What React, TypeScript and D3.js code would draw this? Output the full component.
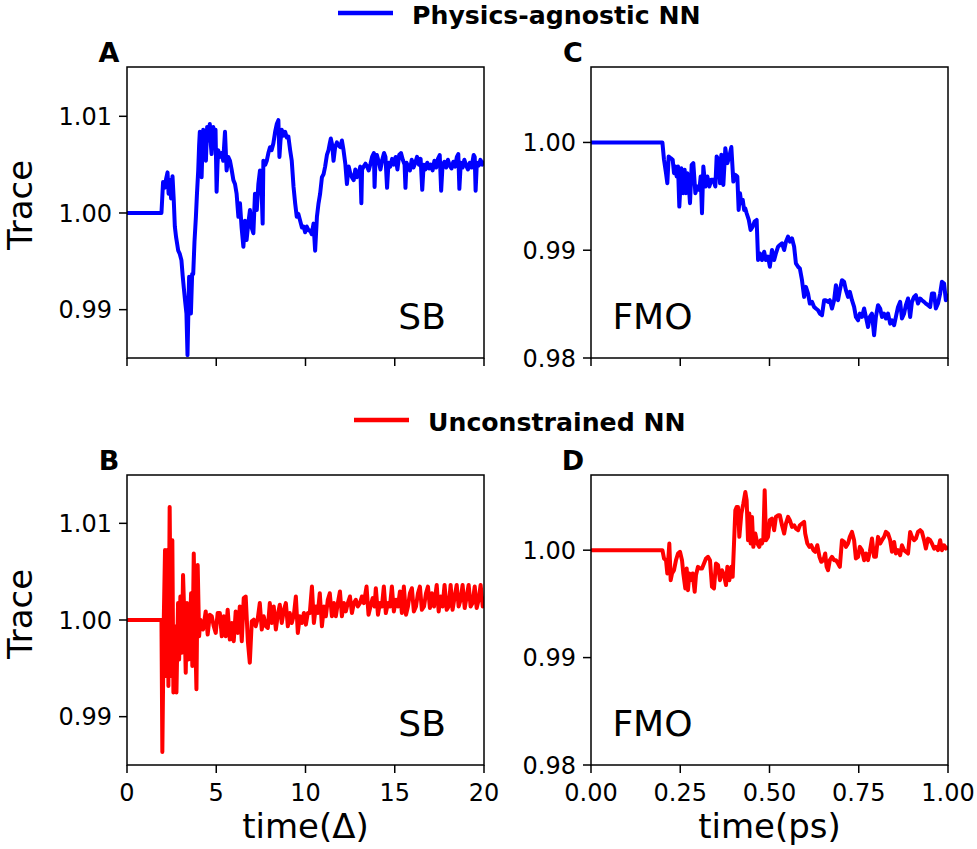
import * as d3 from 'd3';

type Pt = [number, number];

// Panel A: SB, physics-agnostic NN (time in units of Delta, trace)
const sbAgnostic: Pt[] = [
  [0, 1.0], [1.93, 1.0], [2.02, 1.0032], [2.1, 1.0026], [2.2, 1.0036], [2.27, 1.0042], [2.33, 1.002],
  [2.4, 1.0034], [2.47, 1.0015], [2.55, 1.0038], [2.62, 1.0013], [2.68, 0.9986], [2.75, 0.9975],
  [2.87, 0.9961], [2.95, 0.9958], [3.05, 0.9951], [3.12, 0.9935], [3.18, 0.9923], [3.25, 0.991],
  [3.33, 0.9896], [3.39, 0.9853], [3.44, 0.99], [3.48, 0.9934], [3.53, 0.9915], [3.58, 0.9896],
  [3.65, 0.9937], [3.71, 0.9937], [3.78, 0.997], [3.86, 0.9996], [3.92, 1.002], [3.99, 1.0044],
  [4.04, 1.007], [4.08, 1.0084], [4.13, 1.006], [4.18, 1.0037], [4.23, 1.007], [4.27, 1.0086],
  [4.35, 1.0065], [4.42, 1.0054], [4.49, 1.0089], [4.55, 1.0075], [4.64, 1.0092], [4.7, 1.007],
  [4.74, 1.0061], [4.83, 1.0089], [4.9, 1.007], [4.96, 1.0086], [5.02, 1.0022], [5.07, 1.005],
  [5.11, 1.0065], [5.21, 1.0058], [5.3, 1.0062], [5.39, 1.0054], [5.49, 1.0084], [5.58, 1.0044],
  [5.67, 1.0058], [5.77, 1.0054], [5.86, 1.0045], [5.96, 1.0034], [6.05, 1.003], [6.14, 1.002],
  [6.24, 0.9996], [6.33, 1.001], [6.42, 0.9985], [6.52, 0.9965], [6.61, 0.9992], [6.7, 0.9972],
  [6.8, 0.999], [6.89, 1.0003], [6.98, 0.9985], [7.08, 0.9979], [7.17, 1.002], [7.27, 1.0003],
  [7.36, 1.003], [7.45, 1.0044], [7.52, 1.0035], [7.6, 0.9989], [7.64, 1.0054], [7.75, 1.005],
  [7.83, 1.0054], [7.92, 1.0062], [8.01, 1.0068], [8.1, 1.0065], [8.2, 1.0072], [8.3, 1.0084],
  [8.39, 1.0092], [8.48, 1.0096], [8.54, 1.0058], [8.6, 1.0075], [8.67, 1.0086], [8.76, 1.008],
  [8.86, 1.0084], [8.95, 1.0078], [9.04, 1.0079], [9.14, 1.0065], [9.23, 1.0054], [9.33, 1.0027],
  [9.42, 1.001], [9.51, 0.9996], [9.6, 0.9999], [9.7, 0.9992], [9.8, 0.9985], [9.89, 0.9986],
  [9.98, 0.998], [10.07, 0.9986], [10.17, 0.9982], [10.26, 0.9982], [10.35, 0.9978], [10.45, 0.9989],
  [10.54, 0.9961], [10.64, 0.9996], [10.73, 1.001], [10.82, 1.002], [10.92, 1.0037], [11.01, 1.004],
  [11.1, 1.0048], [11.2, 1.006], [11.29, 1.0065], [11.36, 1.0072], [11.42, 1.0077], [11.5, 1.007],
  [11.57, 1.0054], [11.66, 1.0068], [11.76, 1.0073], [11.85, 1.007], [11.95, 1.0068], [12.04, 1.0075],
  [12.13, 1.0065], [12.23, 1.0051], [12.32, 1.003], [12.42, 1.0048], [12.51, 1.0041], [12.6, 1.0037],
  [12.7, 1.0034], [12.79, 1.0045], [12.88, 1.0037], [12.98, 1.0041], [13.07, 1.0048], [13.13, 1.001],
  [13.17, 1.0045], [13.26, 1.0048], [13.36, 1.0051], [13.45, 1.0048], [13.54, 1.0044], [13.64, 1.0051],
  [13.73, 1.0058], [13.83, 1.0062], [13.87, 1.0027], [13.92, 1.0055], [14.0, 1.006], [14.1, 1.0053],
  [14.2, 1.0045], [14.3, 1.0055], [14.4, 1.0062], [14.48, 1.0058], [14.57, 1.0026], [14.65, 1.0052],
  [14.75, 1.0048], [14.85, 1.0056], [14.95, 1.005], [15.05, 1.0058], [15.15, 1.0045], [15.25, 1.006],
  [15.35, 1.0062], [15.45, 1.0055], [15.55, 1.005], [15.6, 1.0026], [15.66, 1.0052], [15.75, 1.0048],
  [15.85, 1.0044], [15.95, 1.0055], [16.05, 1.0047], [16.15, 1.0052], [16.25, 1.0058], [16.35, 1.005],
  [16.45, 1.0056], [16.54, 1.0024], [16.62, 1.005], [16.72, 1.0045], [16.82, 1.0052], [16.92, 1.0046],
  [17.02, 1.005], [17.12, 1.0044], [17.22, 1.0054], [17.32, 1.0047], [17.42, 1.0056], [17.52, 1.006],
  [17.6, 1.0023], [17.68, 1.005], [17.78, 1.0053], [17.88, 1.0047], [17.98, 1.0055], [18.08, 1.0049],
  [18.18, 1.0046], [18.28, 1.0053], [18.38, 1.0048], [18.48, 1.0058], [18.56, 1.0061], [18.62, 1.0025],
  [18.7, 1.0052], [18.8, 1.0047], [18.9, 1.0055], [19.0, 1.0049], [19.1, 1.0045], [19.2, 1.0052],
  [19.3, 1.0047], [19.42, 1.006], [19.48, 1.0058], [19.53, 1.0023], [19.6, 1.0052], [19.7, 1.0049],
  [19.8, 1.0055], [19.9, 1.005], [20, 1.0054],
];

// Panel B: SB, unconstrained NN
const sbUnconstrained: Pt[] = [
  [0, 1.0], [1.87, 1.0], [1.93, 1.0], [1.98, 0.98634], [2.06, 1.0], [2.13, 1.00723], [2.21, 0.99421],
  [2.26, 1.00723], [2.32, 0.99318], [2.39, 1.01168], [2.47, 0.99421], [2.54, 1.00825], [2.6, 0.9925],
  [2.67, 0.99935], [2.77, 0.9925], [2.86, 1.00175], [2.92, 0.99592], [2.99, 1.00243], [3.07, 0.99661],
  [3.14, 1.00466], [3.23, 0.99935], [3.29, 0.99455], [3.36, 1.00175], [3.44, 0.99592], [3.51, 0.99798],
  [3.59, 1.00277], [3.66, 0.99524], [3.74, 1.00688], [3.81, 0.99935], [3.89, 0.99284], [3.96, 1.00568],
  [4.04, 0.99832], [4.11, 1.00003], [4.26, 0.99901], [4.41, 1.00089], [4.52, 0.99849], [4.64, 1.00055],
  [4.75, 1.00038], [4.86, 0.99935], [4.97, 0.99866], [5.08, 1.00072], [5.2, 1.00072], [5.31, 0.99832],
  [5.42, 1.00038], [5.53, 0.99832], [5.64, 1.00106], [5.76, 0.99798], [5.87, 0.99969], [5.98, 0.99781],
  [6.09, 1.00089], [6.21, 0.99866], [6.32, 1.0014], [6.43, 0.99781], [6.54, 1.00226], [6.65, 1.00243],
  [6.77, 0.99781], [6.88, 0.99558], [6.99, 0.99986], [7.1, 1.00003], [7.21, 0.99935], [7.33, 1.00021],
  [7.44, 1.00175], [7.55, 0.99901], [7.66, 1.00038], [7.78, 0.99935], [7.89, 0.99918], [8.0, 1.00175],
  [8.11, 0.99969], [8.22, 1.0014], [8.34, 0.99901], [8.45, 1.00055], [8.56, 1.00158], [8.67, 0.99969],
  [8.79, 1.00106], [8.9, 1.00175], [9.01, 0.99935], [9.12, 1.00072], [9.23, 0.99969], [9.35, 1.00055],
  [9.46, 1.00243], [9.57, 0.99866], [9.68, 1.00038], [9.79, 0.99969], [9.91, 1.00072], [10.02, 0.99952],
  [10.13, 1.00072], [10.24, 1.00072], [10.36, 1.00346], [10.47, 0.99969], [10.58, 1.0014], [10.69, 1.00072],
  [10.8, 1.00277], [10.92, 0.99935], [11.03, 1.0014], [11.14, 1.00038], [11.25, 1.00209], [11.36, 1.00277],
  [11.48, 1.00038], [11.59, 1.00175], [11.7, 1.00038], [11.81, 1.00175], [11.93, 1.00295], [12.04, 1.00038],
  [12.15, 1.00175], [12.26, 1.00089], [12.37, 1.00175], [12.49, 1.00243], [12.6, 1.00072], [12.71, 1.00175],
  [12.82, 1.00209], [12.93, 1.0014], [13.05, 1.00175], [13.16, 1.00243], [13.27, 1.00175], [13.42, 1.00346],
  [13.53, 1.00055], [13.64, 1.0014], [13.76, 1.00226], [13.87, 1.0014], [13.94, 1.00329], [14.06, 1.00055],
  [14.17, 1.00175], [14.28, 1.0014], [14.39, 1.00346], [14.5, 1.00072], [14.62, 1.00175], [14.73, 1.0014],
  [14.84, 1.00346], [14.95, 1.00089], [15.07, 1.00209], [15.18, 1.0014], [15.29, 1.00295], [15.4, 1.00072],
  [15.51, 1.00346], [15.63, 1.00055], [15.74, 1.0014], [15.85, 1.00277], [15.96, 1.00329], [16.07, 1.00089],
  [16.19, 1.0014], [16.3, 1.00277], [16.41, 1.00346], [16.52, 1.00106], [16.64, 1.0014], [16.75, 1.00277],
  [16.86, 1.00346], [16.97, 1.00123], [17.08, 1.00277], [17.2, 1.0014], [17.35, 1.00363], [17.46, 1.00089],
  [17.57, 1.00243], [17.68, 1.0014], [17.79, 1.00363], [17.91, 1.00106], [18.02, 1.0014], [18.13, 1.00363],
  [18.24, 1.00106], [18.36, 1.00243], [18.47, 1.00363], [18.58, 1.0014], [18.69, 1.00209], [18.8, 1.00363],
  [18.92, 1.00123], [19.03, 1.00243], [19.14, 1.00363], [19.25, 1.0014], [19.36, 1.00175], [19.48, 1.00346],
  [19.59, 1.00123], [19.7, 1.00209], [19.81, 1.00363], [19.93, 1.0014], [20, 1.00243],
];

// Panel C: FMO, physics-agnostic NN (time in ps, trace)
const fmoAgnostic: Pt[] = [
  [0, 1.0], [0.2, 1.0], [0.2045, 0.99839], [0.2101, 0.99715], [0.2138, 0.99622], [0.2176, 0.9987],
  [0.2232, 0.99854], [0.2288, 0.99839], [0.2325, 0.99715], [0.2362, 0.99777], [0.24, 0.99684],
  [0.2437, 0.99777], [0.2474, 0.99405], [0.253, 0.99761], [0.2586, 0.99529], [0.2624, 0.99746],
  [0.2661, 0.99529], [0.2698, 0.99715], [0.2736, 0.99622], [0.2773, 0.99436], [0.282, 0.99792],
  [0.2866, 0.99808], [0.2923, 0.99529], [0.2979, 0.99591], [0.3035, 0.9956], [0.3072, 0.99684],
  [0.3109, 0.99343], [0.3147, 0.99777], [0.3203, 0.99591], [0.3259, 0.99684], [0.3315, 0.99591],
  [0.3371, 0.99653], [0.3427, 0.99653], [0.3483, 0.99591], [0.352, 0.9987], [0.3576, 0.99839],
  [0.3613, 0.99622], [0.3651, 0.99885], [0.3707, 0.99606], [0.3763, 0.99947], [0.3819, 0.99808],
  [0.3875, 0.9987], [0.3931, 0.99957], [0.3987, 0.99637], [0.4043, 0.99699], [0.4099, 0.99684],
  [0.4136, 0.99374], [0.4174, 0.99529], [0.421, 0.99436], [0.425, 0.99467], [0.429, 0.99374],
  [0.432, 0.99389], [0.436, 0.99343], [0.442, 0.99281], [0.447, 0.99188], [0.453, 0.99219],
  [0.458, 0.99265], [0.464, 0.99281], [0.468, 0.98909], [0.473, 0.98971], [0.479, 0.98909],
  [0.485, 0.98986], [0.49, 0.98909], [0.496, 0.9894], [0.501, 0.98847], [0.507, 0.99002],
  [0.513, 0.98909], [0.518, 0.98971], [0.524, 0.99033], [0.529, 0.99048], [0.535, 0.99064],
  [0.541, 0.99002], [0.546, 0.99079], [0.552, 0.99126], [0.557, 0.99079], [0.563, 0.9911],
  [0.569, 0.99033], [0.574, 0.98878], [0.58, 0.98847], [0.585, 0.98831], [0.591, 0.98722],
  [0.597, 0.98567], [0.602, 0.9866], [0.608, 0.98598], [0.613, 0.98505], [0.619, 0.98521],
  [0.625, 0.98474], [0.63, 0.98459], [0.636, 0.98443], [0.641, 0.98412], [0.647, 0.98397],
  [0.653, 0.98536], [0.658, 0.98536], [0.664, 0.98521], [0.669, 0.98536], [0.675, 0.98459],
  [0.681, 0.98536], [0.686, 0.98676], [0.692, 0.98536], [0.697, 0.98629], [0.703, 0.98722],
  [0.709, 0.98707], [0.714, 0.98629], [0.72, 0.98567], [0.725, 0.98614], [0.731, 0.98536],
  [0.737, 0.98474], [0.742, 0.98381], [0.748, 0.9835], [0.753, 0.98412], [0.759, 0.98381],
  [0.765, 0.98459], [0.77, 0.98381], [0.776, 0.98288], [0.781, 0.98381], [0.787, 0.98412],
  [0.793, 0.98211], [0.798, 0.98381], [0.804, 0.9849], [0.81, 0.98459], [0.815, 0.98381],
  [0.821, 0.98412], [0.826, 0.98366], [0.832, 0.98412], [0.838, 0.98319], [0.843, 0.9835],
  [0.849, 0.98304], [0.854, 0.98381], [0.86, 0.98474], [0.866, 0.98521], [0.871, 0.98366],
  [0.877, 0.98412], [0.882, 0.9849], [0.888, 0.98552], [0.894, 0.98381], [0.899, 0.98521],
  [0.905, 0.98567], [0.91, 0.98583], [0.916, 0.98505], [0.922, 0.98552], [0.927, 0.98536],
  [0.933, 0.98521], [0.938, 0.98505], [0.944, 0.9849], [0.95, 0.98474], [0.955, 0.98598],
  [0.961, 0.98598], [0.966, 0.98459], [0.972, 0.98505], [0.978, 0.98598], [0.983, 0.98707],
  [0.989, 0.98691], [0.994, 0.98536], [1.0, 0.98598],
];

// Panel D: FMO, unconstrained NN
const fmoUnconstrained: Pt[] = [
  [0, 1.0], [0.2, 1.0], [0.2045, 0.99923], [0.2101, 0.99907], [0.2138, 0.99783], [0.2194, 1.00062],
  [0.2232, 0.99721], [0.2269, 0.99783], [0.2325, 0.99814], [0.2381, 0.99907], [0.2437, 0.99969],
  [0.2493, 0.99985], [0.2549, 0.99907], [0.2586, 0.99783], [0.2642, 0.99644], [0.268, 0.9983],
  [0.2717, 0.99628], [0.2754, 0.99783], [0.2792, 0.99721], [0.2848, 0.99783], [0.2904, 0.99613],
  [0.2941, 0.99768], [0.2997, 0.99845], [0.3053, 0.9983], [0.3109, 0.9983], [0.3165, 0.99876],
  [0.3221, 0.99923], [0.3277, 0.99938], [0.3333, 0.99907], [0.3389, 0.99659], [0.3445, 0.99644],
  [0.3501, 0.99876], [0.3557, 0.99861], [0.3613, 0.99721], [0.3669, 0.99814], [0.3725, 0.99768],
  [0.3782, 0.99675], [0.3819, 0.99845], [0.3875, 0.99721], [0.3931, 0.99845], [0.3968, 0.99752],
  [0.4006, 1.00062], [0.4043, 1.00372], [0.408, 1.00402], [0.4118, 1.00402], [0.4155, 1.00124],
  [0.4211, 1.00341], [0.4267, 1.00433], [0.4323, 1.00542], [0.436, 1.00464], [0.4398, 1.00093],
  [0.4435, 1.00341], [0.4472, 1.00062], [0.451, 1.0031], [0.4547, 1.00031], [0.4603, 1.00155],
  [0.4659, 1.00062], [0.4715, 1.00031], [0.4753, 1.00093], [0.479, 1.00062], [0.4827, 1.00108],
  [0.4865, 1.00557], [0.4902, 1.00093], [0.4958, 1.00124], [0.501, 1.00279], [0.507, 1.00294],
  [0.513, 1.00186], [0.518, 1.0031], [0.524, 1.00325], [0.529, 1.00325], [0.535, 1.00232],
  [0.541, 1.00155], [0.546, 1.00248], [0.552, 1.0031], [0.557, 1.00279], [0.563, 1.00217],
  [0.569, 1.00232], [0.574, 1.00201], [0.58, 1.00186], [0.585, 1.00232], [0.591, 1.00248],
  [0.597, 1.00263], [0.6, 1.00155], [0.606, 1.00062], [0.612, 1.00031], [0.617, 1.00046],
  [0.623, 1.0], [0.628, 0.99985], [0.634, 1.00046], [0.64, 0.99938], [0.645, 0.99892],
  [0.651, 0.99907], [0.656, 0.99969], [0.66, 0.99845], [0.664, 0.99814], [0.669, 0.99907],
  [0.675, 0.99938], [0.681, 0.99907], [0.686, 0.99907], [0.692, 0.99876], [0.697, 0.99845],
  [0.703, 1.00093], [0.709, 1.00077], [0.714, 1.00031], [0.72, 1.00062], [0.725, 1.00124],
  [0.731, 1.0017], [0.737, 1.00093], [0.742, 0.99923], [0.748, 0.99938], [0.753, 1.00031],
  [0.759, 1.0], [0.765, 0.99907], [0.77, 0.99969], [0.776, 0.99907], [0.781, 0.99985],
  [0.787, 1.00108], [0.793, 0.99938], [0.798, 0.99938], [0.804, 1.00124], [0.81, 1.00062],
  [0.815, 1.00093], [0.821, 1.00124], [0.826, 1.0017], [0.832, 1.00155], [0.838, 1.00093],
  [0.843, 0.99985], [0.849, 1.00077], [0.854, 0.99969], [0.86, 1.0], [0.866, 0.99954],
  [0.871, 1.00046], [0.877, 1.0], [0.882, 0.99985], [0.888, 0.99969], [0.894, 1.0017],
  [0.899, 1.00124], [0.905, 1.00093], [0.91, 1.00108], [0.916, 1.0017], [0.922, 1.00186],
  [0.927, 1.0017], [0.933, 1.00093], [0.938, 1.00015], [0.944, 1.00108], [0.95, 1.00093],
  [0.955, 1.00062], [0.961, 1.00015], [0.966, 1.00031], [0.972, 1.0], [0.978, 1.00093],
  [0.983, 1.0], [0.989, 1.00046], [0.994, 1.00015], [1.0, 1.00031],
];

const sbXTicks = [0, 5, 10, 15, 20];
const fmoXTicks = [0, 0.25, 0.5, 0.75, 1.0];
const sbYTicks = [0.99, 1.0, 1.01];
const fmoYTicks = [0.98, 0.99, 1.0];

const FONT = '"DejaVu Sans", "Liberation Sans", sans-serif';
const W = 977;
const H = 849;

interface PanelProps {
  id: string;
  letter: string;
  data: Pt[];
  color: string;
  xDomain: [number, number];
  yDomain: [number, number];
  xTicks: number[];
  yTicks: number[];
  xFmt: (v: number) => string;
  left: number;
  right: number;
  top: number;
  bottom: number;
  showXLabels: boolean;
  system: string;
  systemX: number;
  xlabel?: string;
  ylabel?: string;
  ylabelY?: number;
}

const yFmt = d3.format('.2f');

function Panel(p: PanelProps) {
  const x = d3.scaleLinear().domain(p.xDomain).range([p.left, p.right]);
  const y = d3.scaleLinear().domain(p.yDomain).range([p.bottom, p.top]);
  const line = d3.line<Pt>().x(d => x(d[0])).y(d => y(d[1]));
  const clipId = `clip-${p.id}`;
  const tick = 8;

  return (
    <g>
      <clipPath id={clipId}>
        <rect x={p.left} y={p.top} width={p.right - p.left} height={p.bottom - p.top} />
      </clipPath>
      <path
        d={line(p.data) || ''}
        fill="none"
        stroke={p.color}
        strokeWidth={4}
        strokeLinejoin="round"
        clipPath={`url(#${clipId})`}
      />
      <rect
        x={p.left} y={p.top}
        width={p.right - p.left} height={p.bottom - p.top}
        fill="none" stroke="#000" strokeWidth={1.5}
      />
      {/* y ticks */}
      {p.yTicks.map(t => (
        <g key={`y${t}`}>
          <line x1={p.left - tick} x2={p.left} y1={y(t)} y2={y(t)} stroke="#000" strokeWidth={1.5} />
          <text x={p.left - tick - 7} y={y(t)} dy="0.36em" textAnchor="end"
            fontFamily={FONT} fontSize={24} fill="#000">{yFmt(t)}</text>
        </g>
      ))}
      {/* x ticks */}
      {p.xTicks.map(t => (
        <g key={`x${t}`}>
          <line x1={x(t)} x2={x(t)} y1={p.bottom} y2={p.bottom + tick} stroke="#000" strokeWidth={1.5} />
          {p.showXLabels && (
            <text x={x(t)} y={p.bottom + 36} textAnchor="middle"
              fontFamily={FONT} fontSize={24} fill="#000">{p.xFmt(t)}</text>
          )}
        </g>
      ))}
      <text x={p.left - 18} y={p.top - 5} textAnchor="middle" fontFamily={FONT}
        fontWeight="bold" fontSize={27} fill="#000">{p.letter}</text>
      <text x={p.left + p.systemX * (p.right - p.left)} y={p.bottom - 29}
        fontFamily={FONT} fontSize={36} fill="#000">{p.system}</text>
      {p.xlabel && (
        <text x={(p.left + p.right) / 2} y={p.bottom + 73} textAnchor="middle"
          fontFamily={FONT} fontSize={34} fill="#000">{p.xlabel}</text>
      )}
      {p.ylabel && (
        <text transform={`translate(32,${p.ylabelY}) rotate(-90)`} textAnchor="middle"
          fontFamily={FONT} fontSize={34} fill="#000">{p.ylabel}</text>
      )}
    </g>
  );
}

function Legend({ x, y, color, label }: { x: number; y: number; color: string; label: string }) {
  return (
    <g>
      <line x1={x} x2={x + 55} y1={y} y2={y} stroke={color} strokeWidth={4.5} />
      <text x={x + 74} y={y + 11} fontFamily={FONT} fontWeight="bold" fontSize={25.2} fill="#000">
        {label}
      </text>
    </g>
  );
}

export default function App() {
  const sbFmt = d3.format('d');
  const fmoFmt = d3.format('.2f');
  const colL = { left: 127, right: 484 };
  const colR = { left: 591, right: 948 };
  const rowT = { top: 67, bottom: 358 };
  const rowB = { top: 475, bottom: 765 };

  return (
    <svg width={W} height={H} viewBox={`0 0 ${W} ${H}`}
      style={{ position: 'absolute', left: 0, top: 0, background: '#fff' }}>
      <rect width={W} height={H} fill="#fff" />
      <Legend x={338} y={13} color="#0000ff" label="Physics-agnostic NN" />
      <Legend x={354} y={420} color="#ff0000" label="Unconstrained NN" />

      <Panel id="a" letter="A" data={sbAgnostic} color="#0000ff"
        xDomain={[0, 20]} yDomain={[0.985, 1.0151]} xTicks={sbXTicks} yTicks={sbYTicks} xFmt={sbFmt}
        {...colL} {...rowT} showXLabels={false} system="SB" systemX={0.76}
        ylabel="Trace" ylabelY={205} />
      <Panel id="c" letter="C" data={fmoAgnostic} color="#0000ff"
        xDomain={[0, 1]} yDomain={[0.98, 1.007]} xTicks={fmoXTicks} yTicks={fmoYTicks} xFmt={fmoFmt}
        {...colR} {...rowT} showXLabels={false} system="FMO" systemX={0.06} />
      <Panel id="b" letter="B" data={sbUnconstrained} color="#ff0000"
        xDomain={[0, 20]} yDomain={[0.985, 1.015]} xTicks={sbXTicks} yTicks={sbYTicks} xFmt={sbFmt}
        {...colL} {...rowB} showXLabels={true} system="SB" systemX={0.76}
        xlabel="time(Δ)" ylabel="Trace" ylabelY={614} />
      <Panel id="d" letter="D" data={fmoUnconstrained} color="#ff0000"
        xDomain={[0, 1]} yDomain={[0.98, 1.007]} xTicks={fmoXTicks} yTicks={fmoYTicks} xFmt={fmoFmt}
        {...colR} {...rowB} showXLabels={true} system="FMO" systemX={0.06}
        xlabel="time(ps)" />
    </svg>
  );
}
